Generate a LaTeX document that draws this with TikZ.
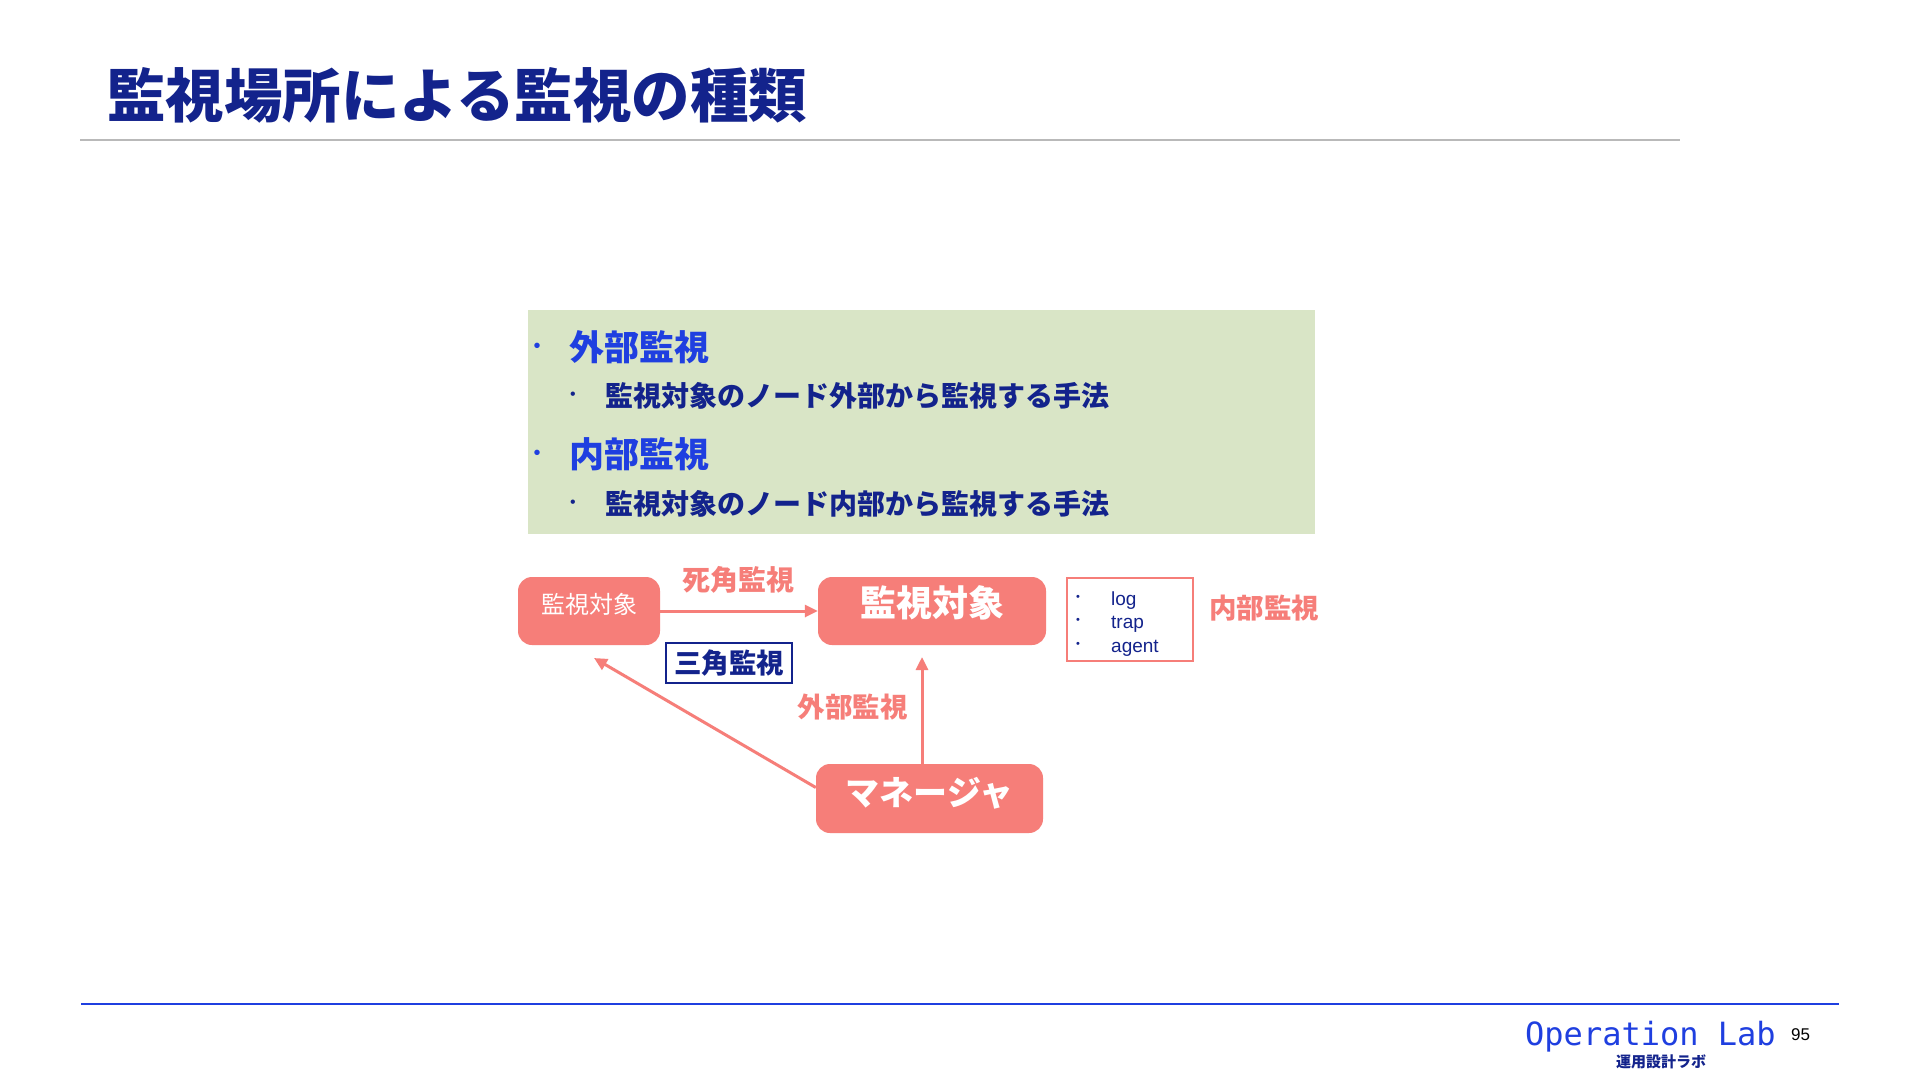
\documentclass[tikz,border=0pt]{standalone}
\usepackage{fontspec}
\newfontfamily\jp{Noto Sans CJK JP}
\newfontfamily\lat{Liberation Sans}
\newfontfamily\mono{DejaVu Sans Mono}
\usetikzlibrary{arrows.meta}
\definecolor{salmon}{HTML}{F67E79}
\definecolor{navy}{HTML}{13238C}
\definecolor{hblue}{HTML}{1F3FE0}
\definecolor{pale}{HTML}{D9E5C6}
\newcommand\fsz[1]{\fontsize{#1}{#1}\selectfont}
\tikzset{
  jpb/.style={font={\jp\bfseries\fsz{#1}}, inner sep=0pt},
  jpr/.style={font={\jp\fsz{#1}}, inner sep=0pt},
  salbox/.style={fill=salmon, rounded corners=14pt, inner sep=0pt, text=white},
  conn/.style={draw=salmon, line width=3pt, -{Triangle[length=13pt,width=12pt]}},
  bul/.style={font={\lat\fsz{#1}}, inner sep=0pt},
}
\begin{document}
\begin{tikzpicture}[x=1pt,y=-1pt]
\useasboundingbox (0,0) rectangle (1920,1080);
\fill[white] (0,0) rectangle (1920,1080);

% title
\node[jpb=58.5, text=navy, anchor=west] (title) at (107,95) {監視場所による監視の種類};
\draw[gray!55, line width=1.5pt] (80,140) -- (1680,140);

% green panel
\node[fill=pale, minimum width=787pt, minimum height=224pt, inner sep=0pt] (panel) at (921.5,422) {};
\node[bul=20, text=hblue] (b1) at (537,348) {•};
\node[jpb=35, text=hblue, anchor=west] (t1) at (569,347) {外部監視};
\node[bul=16, text=navy] (b2) at (573,396) {•};
\node[jpb=28, text=navy, anchor=west] (t2) at (605,396) {監視対象のノード外部から監視する手法};
\node[bul=20, text=hblue] (b3) at (537,455) {•};
\node[jpb=35, text=hblue, anchor=west] (t3) at (569,454) {内部監視};
\node[bul=16, text=navy] (b4) at (573,504) {•};
\node[jpb=28, text=navy, anchor=west] (t4) at (605,504) {監視対象のノード内部から監視する手法};

% diagram boxes
\node[salbox, jpr=24, minimum width=142pt, minimum height=68pt, text height=21.6pt, text depth=16.4pt] (small) at (589,611) {監視対象};
\node[salbox, jpb=36, minimum width=228pt, minimum height=68pt, text height=32.4pt, text depth=21.6pt] (big) at (932,611) {監視対象};
\node[salbox, jpb=34, minimum width=227pt, minimum height=69pt, text height=30.6pt, text depth=16.4pt] (mgr) at (929.5,798.5) {マネージャ};

% labels
\node[jpb=28, text=salmon] (shikaku) at (738,580) {死角監視};
\node[draw=navy, line width=2.5pt, minimum width=126pt, minimum height=40pt, jpb=27.5, text=navy] (sankaku) at (729,663) {三角監視};
\node[jpb=27.5, text=salmon] (gaibu) at (852.5,707) {外部監視};
\node[jpb=27.5, text=salmon] (naibu) at (1264,608) {内部監視};

% log box
\node[draw=salmon, line width=2.5pt, minimum width=126pt, minimum height=83pt, inner sep=0pt] (logbox) at (1130,619.5) {};
\node[bul=11, text=navy] (d1) at (1078,598) {•};
\node[bul=19, text=navy, anchor=base west] (l1) at (1111,605) {log};
\node[bul=11, text=navy] (d2) at (1078,621) {•};
\node[bul=19, text=navy, anchor=base west] (l2) at (1111,628) {trap};
\node[bul=11, text=navy] (d3) at (1078,645) {•};
\node[bul=19, text=navy, anchor=base west] (l3) at (1111,652) {agent};

% connectors
\coordinate (vtip) at (922,657);
\coordinate (dtip) at (594,658);
\draw[conn] (small.east) -- (big.west);
\draw[conn] (mgr.north -| vtip) -- (vtip);
\draw[conn] ([yshift=11pt]mgr.west) -- (dtip);

% footer
\draw[hblue, line width=2pt] (81,1004) -- (1839,1004);
\node[font={\mono\fsz{32}}, text=hblue, anchor=base west, inner sep=0pt] (oplab) at (1525,1045) {Operation Lab};
\node[bul=17, text=black, anchor=west] (pnum) at (1791,1035) {95};
\node[jpb=15, text=navy] (unyo) at (1661,1062) {運用設計ラボ};
\end{tikzpicture}
\end{document}
